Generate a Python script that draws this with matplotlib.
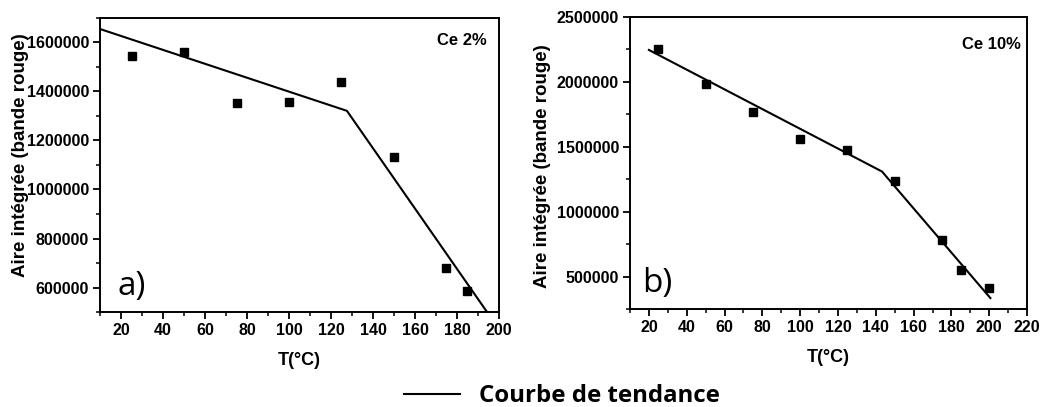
import matplotlib
matplotlib.use("Agg")
import matplotlib.pyplot as plt
from matplotlib.ticker import MultipleLocator

# ---- data ----
temps_a = [25, 50, 75, 100, 125, 150, 175, 185]
aire_a = [1545000, 1563000, 1351000, 1359000, 1438000, 1133000, 681000, 585000]
trend_a_x = [10, 127.6, 194]
trend_a_y = [1655000, 1321000, 504000]

temps_b = [25, 50, 75, 100, 125, 150, 175, 185, 200]
aire_b = [2251000, 1985000, 1769000, 1557000, 1472000, 1236000, 782000, 551000, 413000]
trend_b_x = [20, 143.3, 200.6]
trend_b_y = [2244000, 1308000, 334000]

xlabel = "T(°C)"
ylabel = "Aire intégrée (bande rouge)"
legend_label = "Courbe de tendance"

plt.rcParams['font.family'] = ['Liberation Sans', 'DejaVu Sans']

fig = plt.figure(figsize=(10.41, 4.07), dpi=100)
ax_a = fig.add_axes([0.0961, 0.2334, 0.4793 - 0.0961, 0.9558 - 0.2334])
ax_b = fig.add_axes([0.6052, 0.2408, 0.9866 - 0.6052, 0.959 - 0.2408])


def style(ax, xlim, ylim, xmaj, xmin, ymaj, ymin):
    ax.set_xlim(*xlim)
    ax.set_ylim(*ylim)
    ax.xaxis.set_major_locator(MultipleLocator(xmaj))
    ax.xaxis.set_minor_locator(MultipleLocator(xmin))
    ax.yaxis.set_major_locator(MultipleLocator(ymaj))
    ax.yaxis.set_minor_locator(MultipleLocator(ymin))
    ax.tick_params(which='major', direction='out', length=5, width=1.3,
                   labelsize=11.5, top=False, right=False, pad=3)
    ax.tick_params(which='minor', direction='out', length=3, width=1.1,
                   top=False, right=False)
    for lab in ax.get_xticklabels() + ax.get_yticklabels():
        lab.set_fontweight('bold')
    for sp in ax.spines.values():
        sp.set_linewidth(1.4)
    ax.set_xlabel(xlabel, fontsize=13, fontweight='bold', labelpad=10)
    ax.set_ylabel(ylabel, fontsize=13.5, fontweight='bold')
    ax.ticklabel_format(style='plain', axis='y', useOffset=False)


# panel a
line_a, = ax_a.plot(trend_a_x, trend_a_y, color='black', lw=1.5, label=legend_label)
ax_a.plot(temps_a, aire_a, 's', color='black', ms=5.5)
style(ax_a, (10, 200), (500000, 1700000), 20, 10, 200000, 100000)
ax_a.yaxis.set_label_coords(-0.178, 0.535)
ax_a.text(0.97, 0.95, "Ce 2%", transform=ax_a.transAxes, ha='right', va='top',
          fontsize=12, fontweight='bold')
ax_a.text(0.045, 0.03, "a)", transform=ax_a.transAxes, ha='left', va='bottom',
          fontsize=24, family=['Open Sans', 'DejaVu Sans'])

# panel b
ax_b.plot(trend_b_x, trend_b_y, color='black', lw=1.5)
ax_b.plot(temps_b, aire_b, 's', color='black', ms=5.5)
style(ax_b, (10, 220), (250000, 2500000), 20, 10, 500000, 250000)
ax_b.yaxis.set_label_coords(-0.2, 0.49)
ax_b.text(0.985, 0.93, "Ce 10%", transform=ax_b.transAxes, ha='right', va='top',
          fontsize=12, fontweight='bold')
ax_b.text(0.03, 0.03, "b)", transform=ax_b.transAxes, ha='left', va='bottom',
          fontsize=24, family=['Open Sans', 'DejaVu Sans'])

fig.legend(handles=[line_a], labels=[legend_label], loc='center',
           bbox_to_anchor=(0.540, 1 - 396 / 407), frameon=False,
           prop={'family': ['Open Sans', 'DejaVu Sans'], 'weight': 'bold', 'size': 17.3},
           handlelength=2.3, handletextpad=0.8, borderpad=0)

fig.savefig("out.png", dpi=100)
